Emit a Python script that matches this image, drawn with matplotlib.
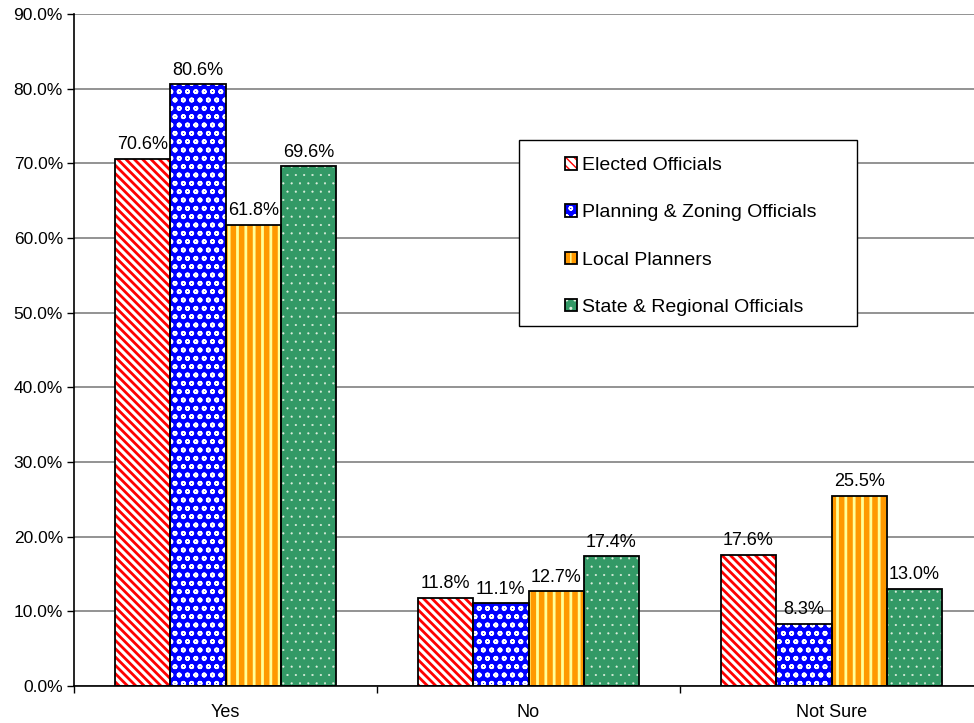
import matplotlib.pyplot as plt
from matplotlib.patches import Patch, Rectangle
from matplotlib.ticker import FuncFormatter, FixedLocator
import numpy as np

plt.rcParams['font.family'] = ['Liberation Sans', 'DejaVu Sans']

categories = ['Yes', 'No', 'Not Sure']
series = ['Elected Officials', 'Planning & Zoning Officials', 'Local Planners', 'State & Regional Officials']
elected = [70.6, 11.8, 17.6]
planning = [80.6, 11.1, 8.3]
local = [61.8, 12.7, 25.5]
state = [69.6, 17.4, 13.0]
values = [elected, planning, local, state]

# face colour, hatch colour, hatch pattern, hatch line width
styles = [('white', '#FF0000', '\\\\\\\\', 2.0),
          ('#0000FF', 'white', 'oo', 1.2),
          ('#FF9900', '#FFFF99', '||', 2.0),
          ('#339966', '#E0F0E0', '..', 0.3)]


def hatched(p, hlw):
    if hasattr(p, 'set_hatch_linewidth'):
        p.set_hatch_linewidth(hlw)
    return p


fig = plt.figure(figsize=(9.74, 7.23), dpi=100)
ax = fig.add_axes([74 / 974, 37 / 723, 909 / 974, 672 / 723])

centers = np.arange(len(categories)) + 0.5
w = 0.1825
handles = []
for i, (vals, (face, hcol, hatch, hlw)) in enumerate(zip(values, styles)):
    x = centers + (i - 1.5) * w
    with plt.rc_context({'hatch.linewidth': hlw}):
        bars = ax.bar(x, vals, w, color=face, edgecolor=hcol, hatch=hatch, linewidth=0, zorder=2)
        for b in bars:
            hatched(b, hlw)
        h = hatched(Patch(facecolor=face, edgecolor=hcol, hatch=hatch, linewidth=0), hlw)
    ax.bar(x, vals, w, fill=False, edgecolor='black', linewidth=1.3, zorder=3)
    for xi, v in zip(x, vals):
        ax.annotate(f'{v:.1f}%', (xi, v), xytext=(0, 4), textcoords='offset points',
                    ha='center', va='bottom', fontsize=13)
    handles.append((h, Patch(fill=False, edgecolor='black', linewidth=1.3)))

ax.set_xlim(0, 3)
ax.set_ylim(0, 90)
ax.set_yticks(np.arange(0, 91, 10))
ax.yaxis.set_major_formatter(FuncFormatter(lambda v, p: f'{v:.1f}%'))
ax.yaxis.grid(True, color='#808080', linewidth=1.2, zorder=0)
ax.set_axisbelow(True)

ax.xaxis.set_major_locator(FixedLocator([0, 1, 2, 3]))
ax.xaxis.set_major_formatter(FuncFormatter(lambda v, p: ''))
ax.xaxis.set_minor_locator(FixedLocator(centers))
ax.set_xticklabels(categories, minor=True)
ax.tick_params(axis='x', which='minor', length=0, pad=13, labelsize=13)
ax.tick_params(axis='x', which='major', length=5, width=1, direction='out')
ax.tick_params(axis='y', length=5, width=1, direction='out', labelsize=12.5, pad=3)

for s in ['top', 'right']:
    ax.spines[s].set_visible(False)
for s in ['left', 'bottom']:
    ax.spines[s].set_linewidth(1.2)

# legend box drawn separately so the padding can match the original
ax.add_patch(Rectangle(((519 - 74) / 909, (686 - 326) / 672), 338 / 909, 186 / 672,
                       transform=ax.transAxes, facecolor='white', edgecolor='black',
                       linewidth=1, zorder=4))
leg = ax.legend(handles, series, loc='upper left',
                bbox_to_anchor=((565 - 74) / 909, (686 - 157) / 672),
                frameon=False, fontsize=14, handlelength=0.62, handleheight=0.62,
                handletextpad=0.25, labelspacing=1.55, borderpad=0, borderaxespad=0)
leg.set_zorder(5)

fig.savefig('out.png', dpi=100)
